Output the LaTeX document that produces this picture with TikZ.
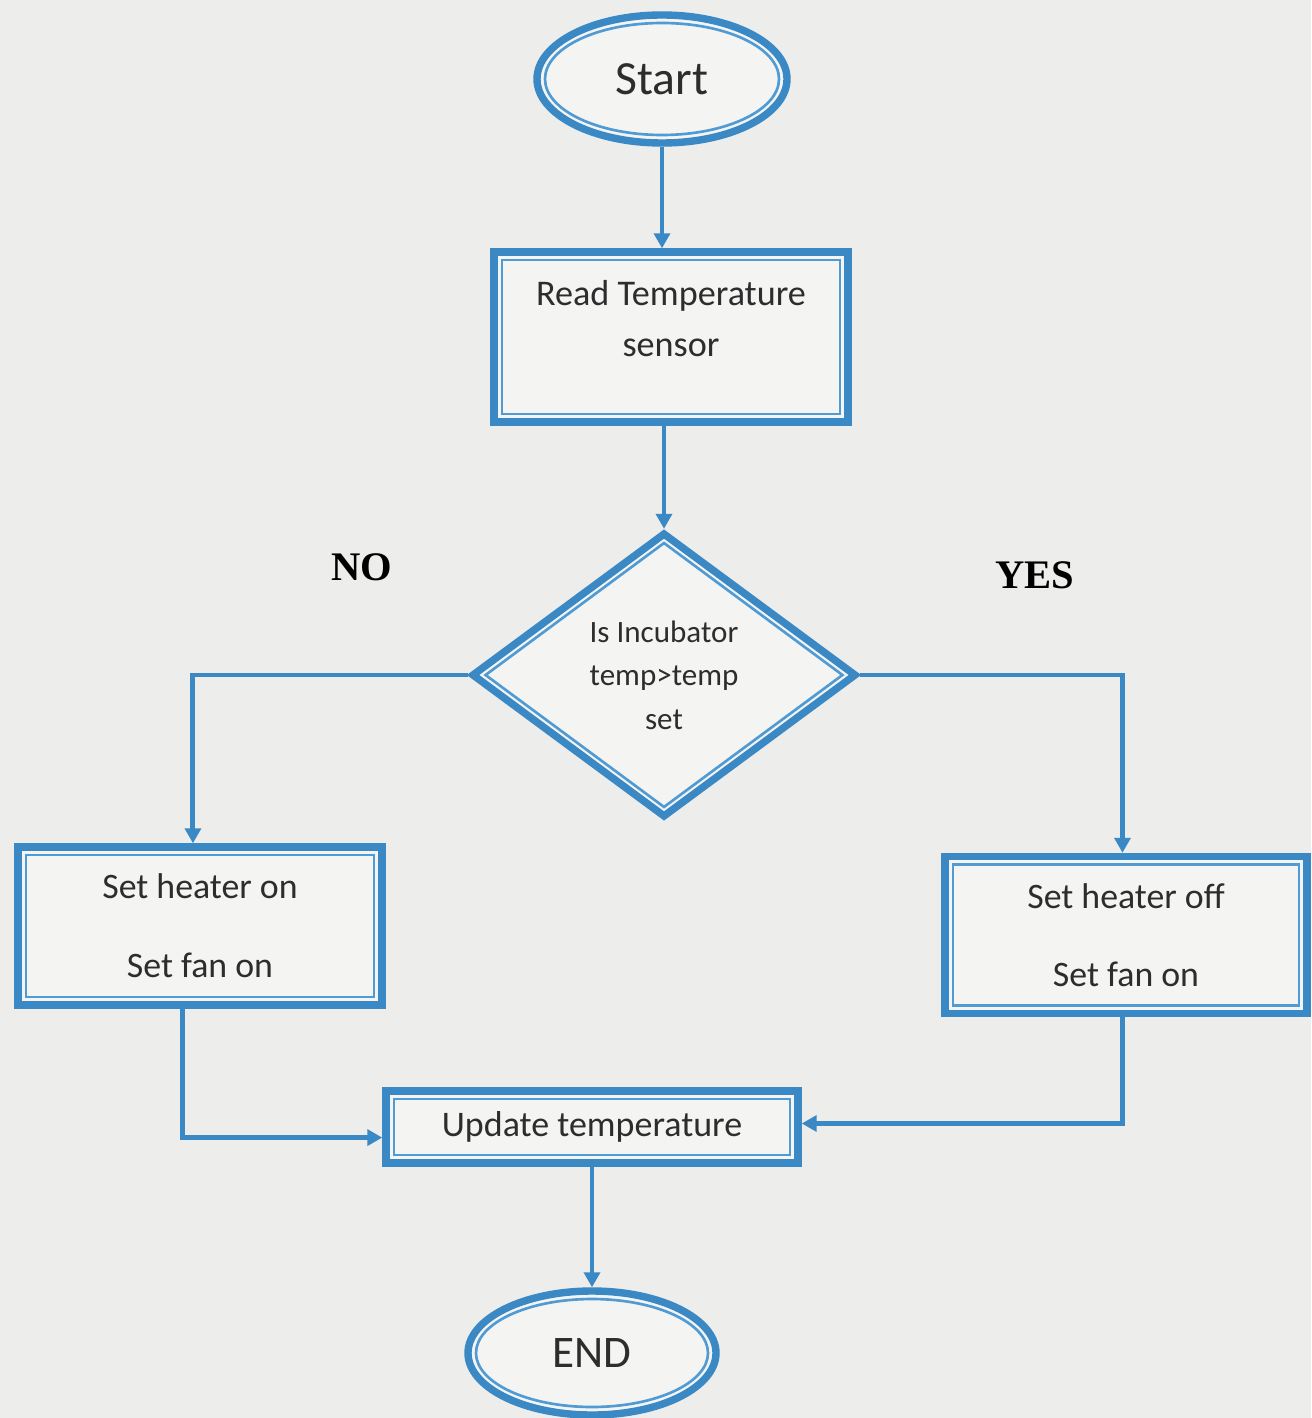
\documentclass[tikz,border=0pt]{standalone}
\usepackage{fontspec}
\setmainfont{Carlito}
\newfontfamily\nyfont{Liberation Serif}
\usetikzlibrary{shapes.geometric,arrows.meta}
\definecolor{fblue}{RGB}{58,136,196}
\definecolor{fblue2}{RGB}{80,155,212}
\definecolor{pagebg}{RGB}{237,237,235}
\definecolor{boxbg}{RGB}{244,244,243}
\definecolor{txt}{RGB}{45,45,45}
\newdimen\pxu \pxu=0.567pt
\begin{document}
\begin{tikzpicture}[x=0.567pt,y=-0.567pt,
  outerline/.style={draw=fblue, line width=4.2pt, fill=boxbg, text=txt, inner sep=0pt, align=center},
  innerline/.style={draw=fblue2, line width=1.5pt, inner sep=0pt},
  rectbox/.style={outerline, rectangle},
  ovalbox/.style={outerline, ellipse},
  decbox/.style={outerline, diamond},
  conn/.style={draw=fblue, line width=2.8pt, -{Triangle[length=8.5pt,width=9pt]}},
  yesno/.style={text=black, font=\nyfont\bfseries\fontsize{23}{27}\selectfont},
]
\fill[pagebg] (0,0) rectangle (1311,1418);
\useasboundingbox (0,0) rectangle (1311,1418);

% Start
\node[ovalbox, minimum width=250\pxu, minimum height=128\pxu, font=\fontsize{27}{32}\selectfont] (start) at (662,79) {Start};
\node[innerline, ellipse, minimum width=234\pxu, minimum height=112\pxu] (startin) at (662,79) {};

% Read Temperature sensor
\node[rectbox, minimum width=354\pxu, minimum height=170\pxu, font=\fontsize{20.5}{29}\selectfont] (read) at (671,337)
  {\raisebox{4pt}[0pt][0pt]{\begin{tabular}{@{}c@{}}Read Temperature\\sensor\end{tabular}}};
\node[innerline, rectangle, minimum width=338\pxu, minimum height=154\pxu] (readin) at (671,337) {};

% Decision
\node[decbox, minimum width=385\pxu, minimum height=285\pxu, font=\fontsize{17.6}{24.7}\selectfont] (dec) at (664,675)
  {Is Incubator\\temp>temp\\set};
\node[innerline, diamond, minimum width=358\pxu, minimum height=265\pxu] (decin) at (664,675) {};

% Left box
\node[rectbox, minimum width=364\pxu, minimum height=158\pxu, font=\fontsize{20.3}{45}\selectfont] (lbox) at (200,926)
  {Set heater on\\Set fan on};
\node[innerline, rectangle, minimum width=348\pxu, minimum height=142\pxu] (lboxin) at (200,926) {};

% Right box
\node[rectbox, minimum width=362\pxu, minimum height=157\pxu, font=\fontsize{20.3}{44}\selectfont] (rbox) at (1126,935)
  {Set heater off\\Set fan on};
\node[innerline, rectangle, minimum width=346\pxu, minimum height=141\pxu] (rboxin) at (1126,935) {};

% Update temperature
\node[rectbox, minimum width=412\pxu, minimum height=72\pxu, font=\fontsize{20.4}{24}\selectfont] (update) at (592,1127)
  {Update temperature};
\node[innerline, rectangle, minimum width=396\pxu, minimum height=56\pxu] (updatein) at (592,1127) {};

% END
\node[ovalbox, minimum width=248\pxu, minimum height=124\pxu, font=\fontsize{25.6}{30}\selectfont] (end) at (592,1353) {END};
\node[innerline, ellipse, minimum width=232\pxu, minimum height=108\pxu] (endin) at (592,1353) {};

% Labels
\node[yesno] (no) at (362,567) {NO};
\node[yesno] (yes) at (1035,575) {YES};

% Connectors
\draw[conn] (start.south) -- (start.south |- read.north);
\draw[conn] (dec.north |- read.south) -- (dec.north);
\draw[conn] (dec.west) -| ([xshift=-4pt]lbox.north);
\draw[conn] (dec.east) -| ([xshift=-2pt]rbox.north);
\draw[conn] ([xshift=-10pt]lbox.south) |- ([yshift=-6pt]update.west);
\draw[conn] ([xshift=-2pt]rbox.south) |- ([yshift=2pt]update.east);
\draw[conn] (update.south) -- (end.north);
\end{tikzpicture}
\end{document}
